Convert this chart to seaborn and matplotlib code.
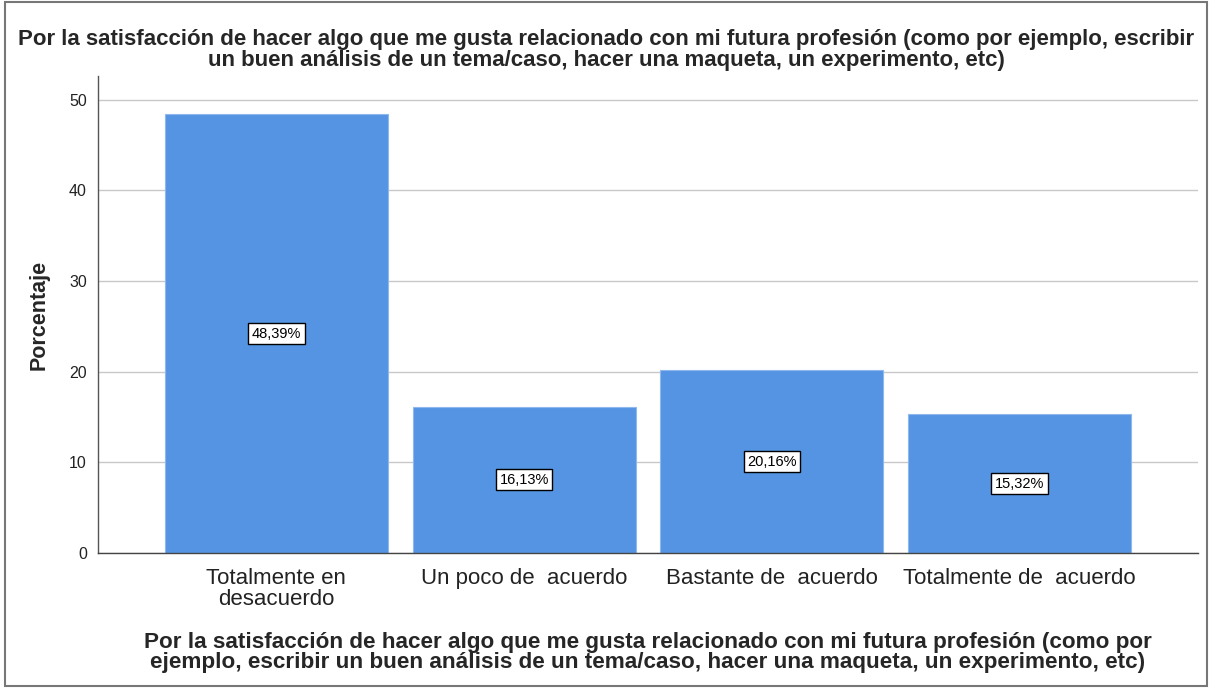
import matplotlib
matplotlib.use("Agg")
import matplotlib.pyplot as plt
import seaborn as sns
import pandas as pd
from matplotlib.patches import Rectangle

categories = ["Totalmente en\ndesacuerdo", "Un poco de  acuerdo",
              "Bastante de  acuerdo", "Totalmente de  acuerdo"]
percentages = [48.39, 16.13, 20.16, 15.32]
y_ticks = [0, 10, 20, 30, 40, 50]

title = ("Por la satisfacción de hacer algo que me gusta relacionado con mi futura profesión (como por ejemplo, escribir\n"
         "un buen análisis de un tema/caso, hacer una maqueta, un experimento, etc)")
x_label = ("Por la satisfacción de hacer algo que me gusta relacionado con mi futura profesión (como por\n"
           "ejemplo, escribir un buen análisis de un tema/caso, hacer una maqueta, un experimento, etc)")

sns.set_theme(style="white")
plt.rcParams["font.family"] = ["Liberation Sans", "DejaVu Sans"]

df = pd.DataFrame({"cat": categories, "pct": percentages})

W, H = 1212, 688
fig = plt.figure(figsize=(W / 100, H / 100), dpi=100)
# plot area: x from 98 to 1198 px, y from 76 (top of spine) to 553 (zero line)
ax = fig.add_axes([98 / W, 1 - 553 / H, 1100 / W, 477 / H])

sns.barplot(data=df, x="cat", y="pct", color="#5594e2", width=0.9,
            saturation=1, edgecolor="#8fb8ee", linewidth=0.8, ax=ax, zorder=2)

ax.set_ylim(0, 52.6)
ax.set_xlim(-0.72, 3.72)
ax.set_yticks(y_ticks)
ax.set_yticklabels([str(t) for t in y_ticks], fontsize=11.5, color="#222222")
ax.yaxis.grid(True, color="#c8c8c8", linewidth=1, zorder=0)
ax.set_axisbelow(True)
ax.tick_params(axis="y", length=0, pad=8)
ax.tick_params(axis="x", length=0, pad=11, labelsize=16, labelcolor="#222222")
for lbl in ax.get_xticklabels():
    lbl.set_linespacing(0.98)

for side in ["top", "right"]:
    ax.spines[side].set_visible(False)
ax.spines["left"].set_color("#555555")
ax.spines["bottom"].set_color("#444444")
ax.spines["left"].set_linewidth(1)
ax.spines["bottom"].set_linewidth(1)

ax.set_ylabel("Porcentaje", fontsize=15.5, fontweight="bold", labelpad=14)
ax.set_xlabel(x_label, fontsize=16.2, fontweight="bold", labelpad=16, linespacing=0.95)

# Value labels in white boxes at mid-height of each bar
for i, v in enumerate(percentages):
    ax.text(i, v / 2, f"{v:.2f}%".replace(".", ","), ha="center", va="center",
            fontsize=10.5, color="black", zorder=5,
            bbox=dict(boxstyle="square,pad=0.24", fc="white", ec="black", lw=1))

fig.suptitle(title, x=0.5, y=1 - 29 / H, fontsize=16, fontweight="bold",
             linespacing=0.98, va="top")

# Outer frame around the whole chart
fig.patches.append(Rectangle((5 / W, 2 / H), 1202 / W, 684 / H,
                             transform=fig.transFigure, fill=False,
                             edgecolor="#777777", linewidth=1.5))

fig.savefig("out.png", dpi=100)
